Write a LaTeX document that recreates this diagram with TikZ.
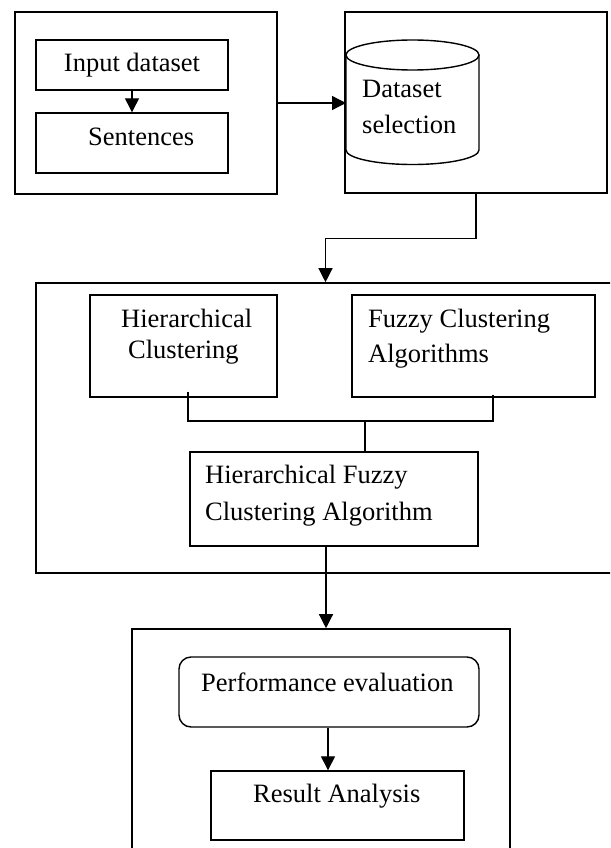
\documentclass[tikz,border=0pt]{standalone}
\usepackage{fontspec}
\setmainfont{Liberation Serif}
\usetikzlibrary{arrows.meta,calc}
\begin{document}
\begin{tikzpicture}[x=1pt,y=-1pt,
  outerbox/.style={draw, line width=1.6pt, inner sep=0pt},
  innerbox/.style={draw, line width=1.4pt, inner sep=0pt},
  conn/.style={line width=1.3pt},
  thickconn/.style={line width=2.2pt},
  arr/.style={line width=1.3pt, -{Triangle[length=14pt,width=14pt]}},
  txt/.style={font=\fontsize{26.5}{32}\selectfont, inner sep=0pt, anchor=base west}]
\clip (0,0) rectangle (610,848);
\fill[white] (0,0) rectangle (610,848);

% top-left group
\node[outerbox, minimum width=262pt, minimum height=182pt] (b1) at (146,103) {};
\node[innerbox, minimum width=192pt, minimum height=50pt, font=\fontsize{26.5}{32}\selectfont] (inp) at (132,65) {Input dataset};
\node[innerbox, minimum width=192pt, minimum height=60pt] (sen) at (132,143) {};
\node[txt] (sent) at (88,146) {Sentences};
\draw[arr] (inp) -- (sen);

% top-right group
\node[outerbox, minimum width=262pt, minimum height=181pt] (b2) at (476,102.5) {};
\draw[innerbox] (346,55) -- (346,150) arc[start angle=180, end angle=0, x radius=66.5, y radius=14.5] -- (479,55);
\draw[innerbox] (412.5,55) ellipse[x radius=66.5, y radius=15];
\coordinate (cyl) at (346,103);
\node[txt] (ds1) at (362,98) {Dataset};
\node[txt] (ds2) at (362,134) {selection};
\draw[arr] (b1.east) -- (cyl);

% middle group
\node[outerbox, minimum width=579pt, minimum height=290pt] (b3) at (325.5,428) {};
\draw[arr] (b2.south) -- ++(0,45) -| (b3.north);
\node[innerbox, minimum width=187pt, minimum height=102pt] (hc) at (183.5,346) {};
\node[txt] (hc1) at (121,327) {Hierarchical};
\node[txt] (hc2) at (128,358) {Clustering};
\node[innerbox, minimum width=243pt, minimum height=102pt] (fc) at (473.5,346) {};
\node[txt] (fc1) at (368,327) {Fuzzy Clustering};
\node[txt] (fc2) at (368,362) {Algorithms};
\node[innerbox, minimum width=288pt, minimum height=94pt] (hfca) at (334,499) {};
\node[txt] (hf1) at (205,483) {Hierarchical Fuzzy};
\node[txt] (hf2) at (205,520) {Clustering Algorithm};
\coordinate (j) at (365,421);
\draw[conn] ($(hc.south)+(4.5,-6)$) |- (j);
\draw[conn] ($(fc.south)+(19.5,-3)$) |- (j);
\draw[thickconn] (j) -- (hfca.north -| j);

% bottom group
\node[outerbox, minimum width=378pt, minimum height=241pt] (b4) at (321,749.5) {};
\draw[arr] ([xshift=-8pt]hfca.south) -- ([xshift=-8pt]hfca.south |- b4.north);
\node[innerbox, rounded corners=12pt, minimum width=300pt, minimum height=70pt] (pe) at (329,692) {};
\node[txt] (pet) at (201,691) {Performance evaluation};
\node[innerbox, minimum width=253pt, minimum height=69pt] (ra) at (337.5,805.5) {};
\node[txt] (rat) at (253,802) {Result Analysis};
\draw[arr] ([xshift=-1pt]pe.south) -- ([xshift=-1pt]pe.south |- ra.north);
\end{tikzpicture}
\end{document}
